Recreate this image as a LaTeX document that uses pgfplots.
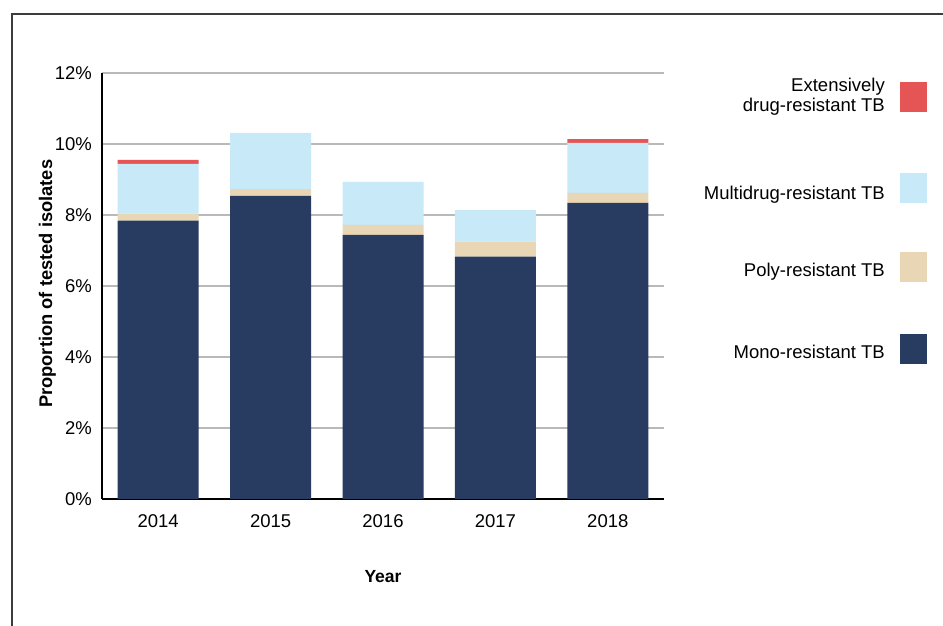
\documentclass[border=0pt]{standalone}
\usepackage{pgfplots}
\pgfplotsset{compat=1.18}
\usepackage{fontspec}
\setmainfont{Liberation Sans}

\definecolor{monoc}{HTML}{283B61}
\definecolor{polyc}{HTML}{E8D6B4}
\definecolor{mdrc}{HTML}{C7E9F8}
\definecolor{xdrc}{HTML}{E65555}
\definecolor{framec}{HTML}{3C3C3C}

\newcommand{\tickfont}{\fontsize{18.5}{22}\selectfont}
\newcommand{\labfont}{\fontsize{17.5}{21}\selectfont\bfseries}
\newcommand{\ylabfont}{\fontsize{18.3}{22}\selectfont\bfseries}

\begin{document}
\begin{tikzpicture}[x=1pt,y=1pt]
  \path[use as bounding box] (0,0) rectangle (943,626);
  % outer frame (only top and left visible)
  \draw[framec, line width=1.5pt] (12,0) -- (12,612) -- (943,612);

  \begin{axis}[
      at={(102pt,127pt)}, anchor=south west,
      scale only axis,
      width=562pt, height=426pt,
      ybar stacked,
      bar width=81pt,
      xmin=-0.5, xmax=4.5,
      ymin=0, ymax=12,
      axis x line*=bottom,
      axis y line*=left,
      axis line style={black, line width=1.6pt, -},
      xtick=data,
      xticklabels={2014,2015,2016,2017,2018},
      ytick={0,2,4,6,8,10,12},
      yticklabels={0\%,2\%,4\%,6\%,8\%,10\%,12\%},
      major tick length=0pt,
      ymajorgrids,
      grid style={gray!55, line width=1.1pt},
      tick label style={font=\tickfont, inner sep=0pt},
      yticklabel style={anchor=east, xshift=-10pt},
      xticklabel style={anchor=north, yshift=-15pt},
      xlabel={Year},
      ylabel={Proportion of tested isolates},
      xlabel style={font=\labfont, at={(axis description cs:0.5,-0.183)}, anchor=center},
      ylabel style={font=\ylabfont, at={(axis description cs:-0.097,0.505)}, anchor=center},
      clip=false,
    ]
    % mono-resistant
    \addplot[fill=monoc, draw=none] coordinates {
      (0,7.84) (1,8.54) (2,7.44) (3,6.83) (4,8.34)
    };
    % poly-resistant
    \addplot[fill=polyc, draw=none] coordinates {
      (0,0.20) (1,0.19) (2,0.28) (3,0.42) (4,0.28)
    };
    % multidrug-resistant
    \addplot[fill=mdrc, draw=none] coordinates {
      (0,1.40) (1,1.58) (2,1.21) (3,0.89) (4,1.41)
    };
    % extensively drug-resistant
    \addplot[fill=xdrc, draw=none] coordinates {
      (0,0.11) (1,0) (2,0) (3,0) (4,0.11)
    };
  \end{axis}

  % legend, drawn by hand to the right of the axis
  \fill[xdrc]  (900,514) rectangle (927,544);
  \fill[mdrc]  (900,423) rectangle (927,453);
  \fill[polyc] (900,344) rectangle (927,374);
  \fill[monoc] (900,262) rectangle (927,292);
  \node[anchor=base east, inner sep=0pt, font=\tickfont] at (885,534) {Extensively};
  \node[anchor=base east, inner sep=0pt, font=\tickfont] at (885,514) {drug-resistant TB};
  \node[anchor=base east, inner sep=0pt, font=\tickfont] at (885,426) {Multidrug-resistant TB};
  \node[anchor=base east, inner sep=0pt, font=\tickfont] at (885,349) {Poly-resistant TB};
  \node[anchor=base east, inner sep=0pt, font=\tickfont] at (885,267) {Mono-resistant TB};
\end{tikzpicture}
\end{document}
